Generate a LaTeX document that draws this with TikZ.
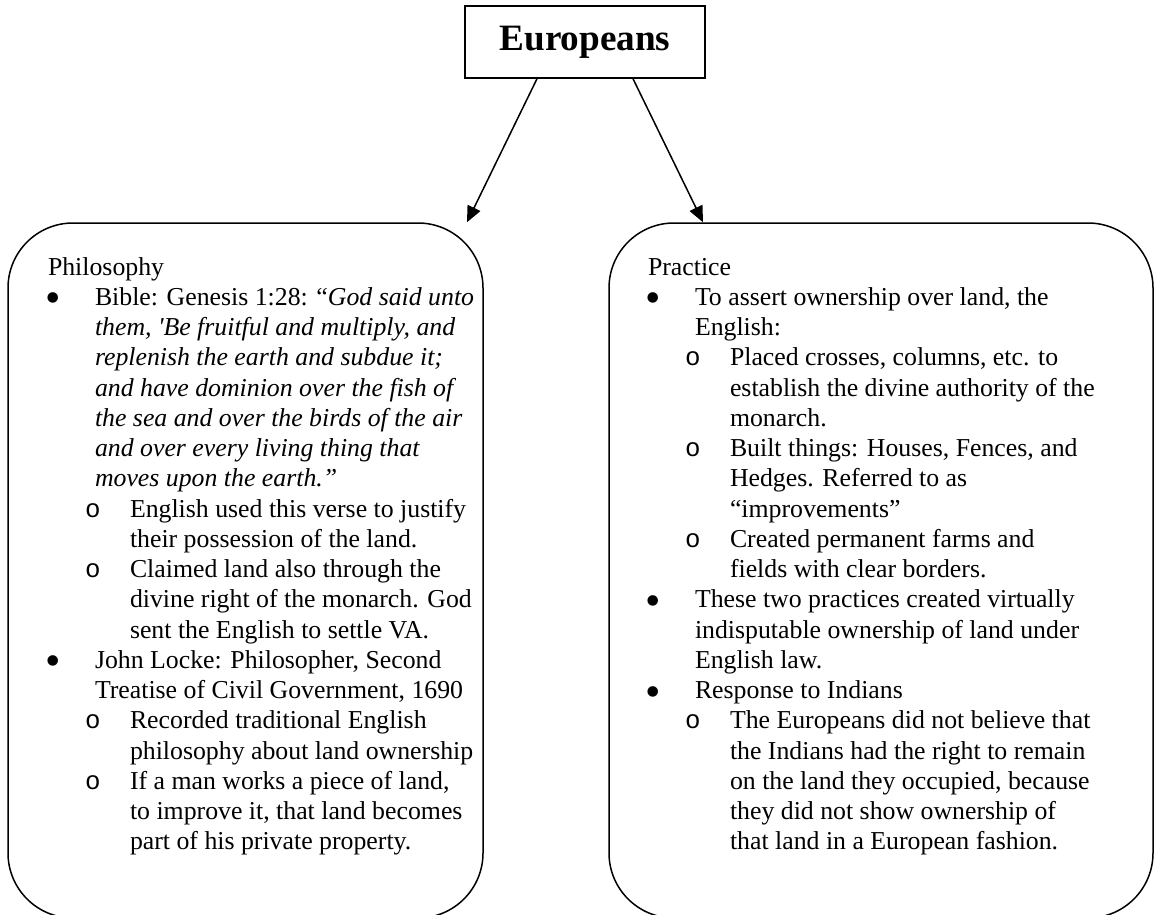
\documentclass[tikz,border=0pt]{standalone}
\usepackage{fontspec}
\setmainfont{Liberation Serif}[Ligatures=TeXOff]
\newfontfamily\subbulletfont{Liberation Mono}
\usetikzlibrary{arrows.meta}
\newcommand\lns[1]{\parbox[t]{300pt}{\raggedright #1}}
\tikzset{
  body/.style={font=\fontsize{12.9}{15.125}\selectfont, inner sep=0pt, outer sep=0pt, anchor=base west},
  bul/.style={font=\fontsize{22}{22}\selectfont, inner sep=0pt, outer sep=0pt, anchor=center},
  sub/.style={font=\fontsize{12.9}{15.125}\subbulletfont, inner sep=0pt, outer sep=0pt, anchor=base west},
  panel/.style={draw, line width=0.75pt, rounded corners=32.5pt, minimum height=347.5pt, inner sep=0pt},
  topbox/.style={draw, line width=0.75pt, minimum width=120pt, minimum height=36pt, inner sep=0pt,
                 font=\fontsize{18.6}{20}\selectfont\bfseries},
  arr/.style={line width=0.75pt, -{Triangle[length=8pt,width=7pt]}}
}
\begin{document}
\begin{tikzpicture}[x=0.5pt, y=-0.5pt]
\useasboundingbox (0,0) rectangle (1156,915);
% boxes
\node[topbox] (eu) at (585,42) {Europeans};
\node[panel, minimum width=237.5pt] (phil) at (245.5,570.5) {};
\node[panel, minimum width=272pt] (prac) at (881,570.5) {};
% connectors
\draw[arr] ([xshift=-24pt]eu.south) -- ([xshift=110.75pt]phil.north);
\draw[arr] ([xshift=24pt]eu.south) -- ([xshift=-89pt]prac.north);
% ---------- left panel ----------
\node[body] (ph0) at (48,275) {Philosophy};
\node[bul] (phb1) at (53,303) {•};
\node[body] (pht1) at (95,305.25) {\lns{Bible: Genesis 1:28: “\textit{God said unto}\\
\textit{them, 'Be fruitful and multiply, and}\\
\textit{replenish the earth and subdue it;}\\
\textit{and have dominion over the fish of}\\
\textit{the sea and over the birds of the air}\\
\textit{and over every living thing that}\\
\textit{moves upon the earth.”}}};
\node[sub] (phs2) at (85,517) {o};
\node[body] (pht2) at (130,517) {\lns{English used this verse to justify\\their possession of the land.}};
\node[sub] (phs3) at (85,577.5) {o};
\node[body] (pht3) at (130,577.5) {\lns{Claimed land also through the\\divine right of the monarch. God\\sent the English to settle VA.}};
\node[bul] (phb4) at (53,666) {•};
\node[body] (pht4) at (95,668.25) {\lns{John Locke: Philosopher, Second\\Treatise of Civil Government, 1690}};
\node[sub] (phs5) at (85,728.75) {o};
\node[body] (pht5) at (130,728.75) {\lns{Recorded traditional English\\philosophy about land ownership}};
\node[sub] (phs6) at (85,789.25) {o};
\node[body] (pht6) at (130,789.25) {\lns{If a man works a piece of land,\\to improve it, that land becomes\\part of his private property.}};
% ---------- right panel ----------
\node[body] (pr0) at (648,275) {Practice};
\node[bul] (prb1) at (653,303) {•};
\node[body] (prt1) at (695,305.25) {\lns{To assert ownership over land, the\\English:}};
\node[sub] (prs2) at (685,365.75) {o};
\node[body] (prt2) at (730,365.75) {\lns{Placed crosses, columns, etc. to\\establish the divine authority of the\\monarch.}};
\node[sub] (prs3) at (685,456.5) {o};
\node[body] (prt3) at (730,456.5) {\lns{Built things: Houses, Fences, and\\Hedges. Referred to as\\“improvements”}};
\node[sub] (prs4) at (685,547.25) {o};
\node[body] (prt4) at (730,547.25) {\lns{Created permanent farms and\\fields with clear borders.}};
\node[bul] (prb5) at (653,605.5) {•};
\node[body] (prt5) at (695,607.75) {\lns{These two practices created virtually\\indisputable ownership of land under\\English law.}};
\node[bul] (prb6) at (653,696.25) {•};
\node[body] (prt6) at (695,698.5) {Response to Indians};
\node[sub] (prs7) at (685,728.75) {o};
\node[body] (prt7) at (730,728.75) {\lns{The Europeans did not believe that\\the Indians had the right to remain\\on the land they occupied, because\\they did not show ownership of\\that land in a European fashion.}};
\end{tikzpicture}
\end{document}
